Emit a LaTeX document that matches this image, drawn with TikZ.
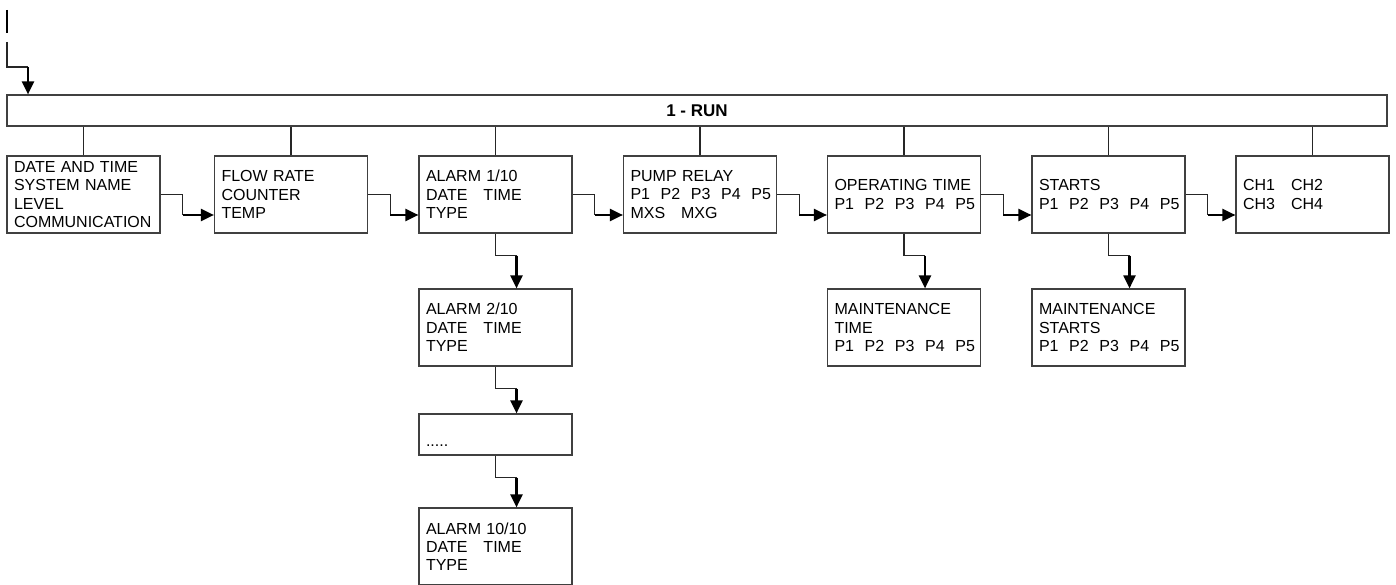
\documentclass[tikz,border=0pt]{standalone}
\usepackage{fontspec}
\setmainfont{Liberation Sans}
\usetikzlibrary{arrows.meta}

\tikzset{
  menubox/.style={draw=black!75, line width=1.2pt, minimum width=153pt, minimum height=77pt,
    text width=139pt, inner xsep=7pt, inner ysep=0pt, align=left,
    font=\fontsize{16}{18.3}\selectfont},
  link/.style={draw=black!85, line width=1.2pt},
  arr/.style={line width=2.2pt, -{Triangle[length=13pt,width=12pt]}},
}

\begin{document}
\begin{tikzpicture}[x=1pt,y=-1pt]
\useasboundingbox (0,0) rectangle (1396,585);
% main menu bar
\node[draw=black!75, line width=1.2pt, minimum width=1380pt, minimum height=31pt, inner sep=0pt,
  font=\bfseries\fontsize{17}{18}\selectfont] (run) at (697,110.5) {1 - RUN};
% entry line
\coordinate (feedA) at (7,10);
\coordinate (feedB) at (7,33);
\coordinate (feedC) at (7,42);
\draw[line width=2pt] (feedA) -- (feedB);
\draw[link] (feedC) -- ++(0,25) -- ++(21,0) coordinate (k);
\draw[arr] (k) -- (k |- run.north);
% first row
\node[menubox] (date) at (83.5,194.5) {DATE AND TIME\\SYSTEM NAME\\LEVEL\\COMMUNICATION};
\node[menubox] (flow) at (291,194.5) {FLOW RATE\\COUNTER\\TEMP};
\node[menubox] (alarm1) at (495.5,194.5) {ALARM 1/10\\DATE\quad TIME\\TYPE};
\node[menubox] (relay) at (700,194.5) {PUMP RELAY\\P1~~P2~~P3~~P4~~P5\\MXS~~~MXG};
\node[menubox] (optime) at (904,194.5) {OPERATING TIME\\P1~~P2~~P3~~P4~~P5};
\node[menubox] (starts) at (1108.5,194.5) {STARTS\\P1~~P2~~P3~~P4~~P5};
\node[menubox] (chan) at (1312.5,194.5) {CH1~~~CH2\\CH3~~~CH4};
% sub menus
\node[menubox] (alarm2) at (495.5,327.5) {ALARM 2/10\\DATE\quad TIME\\TYPE};
\node[menubox, minimum height=41pt] (alarmdots) at (495.5,434.5) {\rule{0pt}{24pt}.....};
\node[menubox] (alarm10) at (495.5,546.5) {ALARM 10/10\\DATE\quad TIME\\TYPE};
\node[menubox] (mtime) at (904,327.5) {MAINTENANCE\\TIME\\P1~~P2~~P3~~P4~~P5};
\node[menubox] (mstarts) at (1108.5,327.5) {MAINTENANCE\\STARTS\\P1~~P2~~P3~~P4~~P5};
% connectors
\foreach \n in {date,flow,alarm1,relay,optime,starts,chan}
  \draw[link] (\n.north) -- (\n.north |- run.south);
\foreach \a/\b in {date/flow,flow/alarm1,alarm1/relay,relay/optime,optime/starts,starts/chan}{
  \draw[link] (\a.east) -- ++(22,0) -- ++(0,20.5) coordinate (k);
  \draw[arr] (k) -- (k -| \b.west);
}
\foreach \a/\b in {alarm1/alarm2,alarm2/alarmdots,alarmdots/alarm10,optime/mtime,starts/mstarts}{
  \draw[link] (\a.south) -- ++(0,22) -- ++(21,0) coordinate (k);
  \draw[arr] (k) -- (k |- \b.north);
}
\end{tikzpicture}
\end{document}
